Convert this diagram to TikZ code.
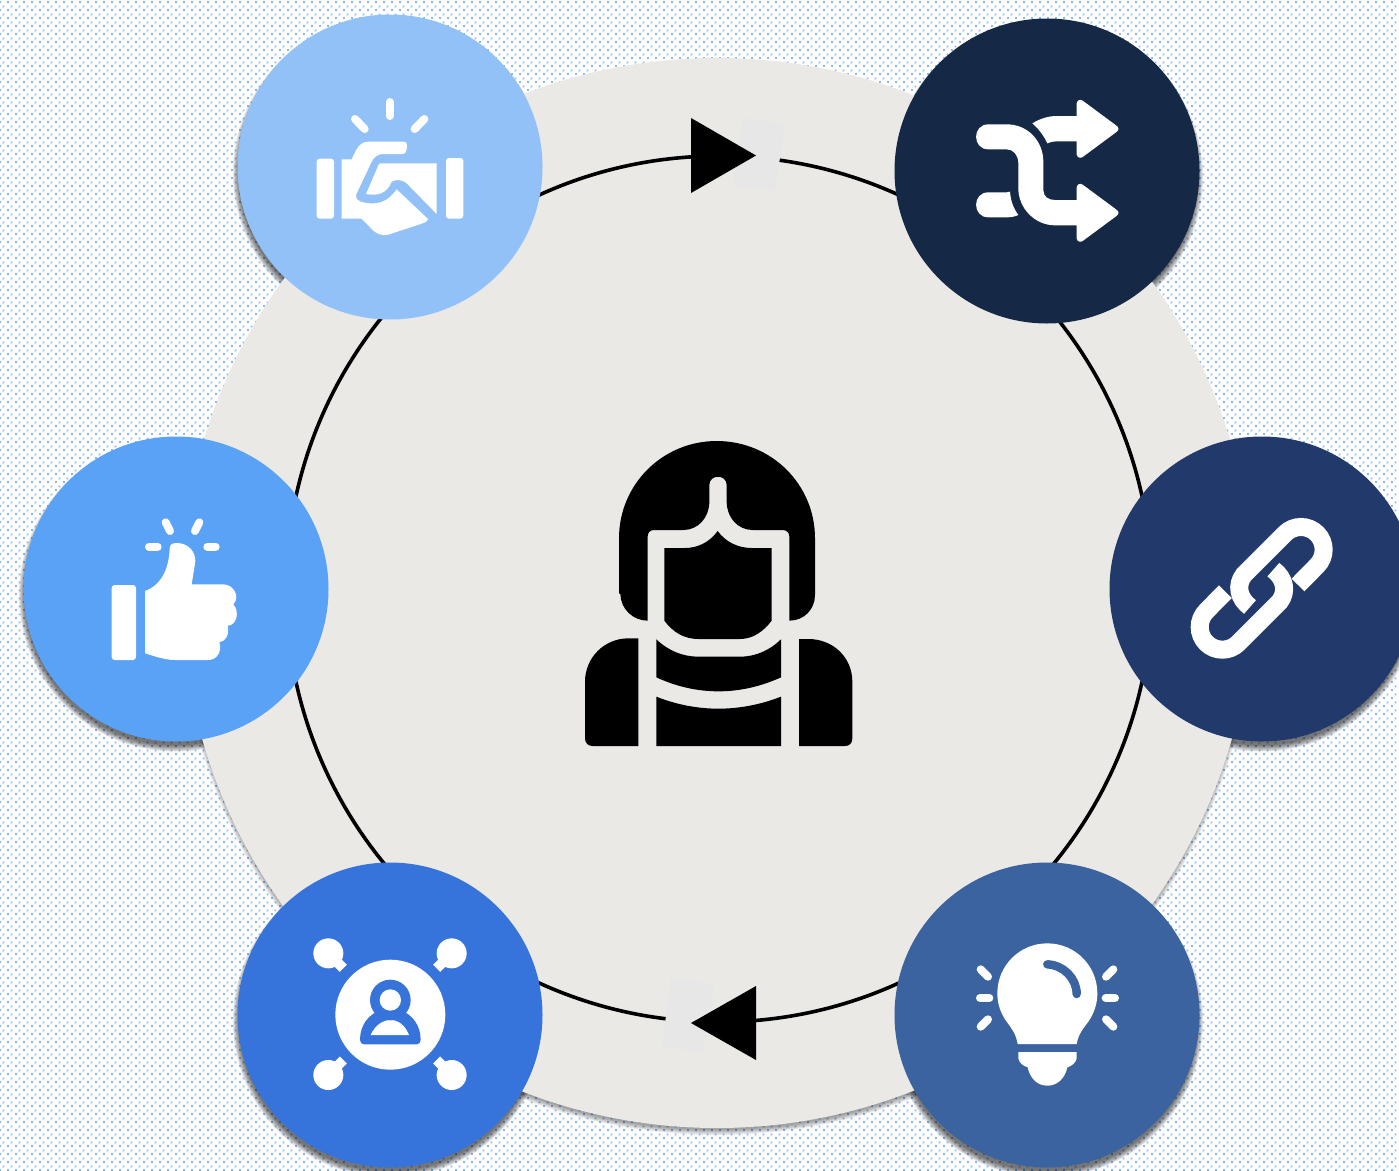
\documentclass[tikz,border=0pt]{standalone}
\usetikzlibrary{patterns}
\pgfdeclarepatternformonly{dotsbg}{\pgfqpoint{0pt}{0pt}}{\pgfqpoint{8pt}{8pt}}{\pgfqpoint{8pt}{8pt}}{%
  \pgfpathrectangle{\pgfqpoint{0pt}{0pt}}{\pgfqpoint{2pt}{2pt}}%
  \pgfpathrectangle{\pgfqpoint{4pt}{4pt}}{\pgfqpoint{2pt}{2pt}}%
  \pgfusepath{fill}}
\definecolor{dotc}{HTML}{85B8F2}
\definecolor{plate}{HTML}{EAE9E6}
\definecolor{patch}{HTML}{E7E7E8}
\definecolor{cHand}{HTML}{92C1F7}
\definecolor{cShuf}{HTML}{152947}
\definecolor{cThumb}{HTML}{5AA2F5}
\definecolor{cLink}{HTML}{21396B}
\definecolor{cNet}{HTML}{3674DB}
\definecolor{cBulb}{HTML}{3B639F}
\tikzset{
  disc/.style={circle,minimum size=305pt,inner sep=0pt,outer sep=0pt},
  ray/.style={draw=white,line width=8pt,line cap=round},
  wfill/.style={fill=white},
  icon/.style={x=0.33333pt,y=-0.33333pt},
  marker/.style={fill=black},
  patchbox/.style={fill=patch},
}
\newcommand{\softshade}[3]{%
  \foreach \rr in {4,3,2,1,0,-1,-2}{\fill[black,opacity=0.1] (#1-0.5,#2+6) circle[radius=#3+\rr];}}
\newcommand{\plateshade}[3]{%
  \foreach \rr in {2,1,0,-1,-2,-3}{\fill[black,opacity=0.07] (#1,#2+5) circle[radius=#3+\rr];}}
\begin{document}
\begin{tikzpicture}[x=1pt,y=-1pt]
\useasboundingbox (0,0) rectangle (1399,1170);
\fill[white] (0,0) rectangle (1399,1170);
\fill[pattern=dotsbg,pattern color=dotc] (0,0) rectangle (1399,1170);
% disc shadows lie under the plate
\softshade{390}{167}{152.5}
\softshade{1047}{171}{152.5}
\softshade{176}{589}{152.5}
\softshade{1262}{589}{152.5}
\softshade{390}{1015}{152.5}
\softshade{1047}{1015}{152.5}
% plate
\plateshade{717}{593}{535}
\node[circle,fill=plate,minimum size=1070pt,inner sep=0pt] (plate) at (717,593) {};
% ring
\node[circle,draw=black,line width=3.6pt,minimum size=866pt,inner sep=0pt] (ring) at (719,589) {};
% patches
\fill[patchbox] (743,118) -- (785,124) -- (775,191) -- (733,185) -- cycle;
\fill[patchbox] (671,978) -- (714,985) -- (703,1052) -- (662,1046) -- cycle;
% arrows
\fill[marker] (691,118) -- (756,155.5) -- (691,193) -- cycle;
\fill[marker] (756,986) -- (691,1023) -- (756,1060) -- cycle;
% discs
\node[disc,fill=cHand] (hand) at (390,167) {};
\node[disc,fill=cShuf] (shuf) at (1047,171) {};
\node[disc,fill=cThumb] (thumb) at (176,589) {};
\node[disc,fill=cLink] (link) at (1262,589) {};
\node[disc,fill=cNet] (net) at (390,1015) {};
\node[disc,fill=cBulb] (bulb) at (1047,1015) {};
% person
\begin{scope}[shift={(570,430)},icon]
\fill[black] (233,572) -- (233,320) .. controls (233,308) and (240,300) .. (252,300) -- (340,300)
  .. controls (385,300) and (418,262) .. (418,215) -- (418,165)
  .. controls (418,132) and (470,132) .. (470,165) -- (470,215)
  .. controls (470,262) and (503,300) .. (548,300) -- (638,300)
  .. controls (650,300) and (658,308) .. (658,320) -- (658,572)
  .. controls (702,572) and (735,538) .. (735,495) -- (735,325)
  .. controls (735,162) and (603,33) .. (440,33)
  .. controls (279,33) and (147,162) .. (147,325) -- (147,490) -- (151,492)
  .. controls (152,538) and (190,572) .. (233,572) -- cycle;
\fill[black] (283,354) -- (345,354) .. controls (385,354) and (420,335) .. (443,303)
  .. controls (466,335) and (503,354) .. (545,354) -- (605,354) -- (605,572)
  .. controls (580,605) and (548,627) .. (510,627) -- (385,627)
  .. controls (340,627) and (308,605) .. (283,572) -- cycle;
\fill[black] (205,625) -- (175,625) .. controls (103,625) and (45,683) .. (45,755) -- (45,925)
  .. controls (45,940) and (55,948) .. (68,948) -- (205,948) -- cycle;
\fill[black] (687,627) -- (715,627) .. controls (790,627) and (847,683) .. (847,755) -- (847,925)
  .. controls (847,940) and (838,948) .. (825,948) -- (687,948) -- cycle;
\fill[black] (259,628) .. controls (295,662) and (338,680) .. (385,680) -- (510,680)
  .. controls (558,680) and (600,660) .. (633,628) -- (633,742)
  .. controls (510,798) and (380,798) .. (259,742) -- cycle;
\fill[black] (259,800) .. controls (380,848) and (510,848) .. (633,800) -- (633,948) -- (259,948) -- cycle;
\end{scope}
% handshake
\begin{scope}[shift={(280,80)},icon]
\fill[wfill,rounded corners=3pt] (110,236) -- (162,236) -- (162,416) -- (110,416) -- cycle;
\fill[wfill,rounded corners=3pt] (498,234) -- (550,234) -- (550,416) -- (498,416) -- cycle;
\draw[ray] (329,66) -- (329,108);
\draw[ray] (225,117) -- (254,147);
\draw[ray] (433,117) -- (404,147);
\fill[wfill] (185,238) -- (215,238) .. controls (228,210) and (238,185) .. (265,185) -- (370,185)
  .. controls (380,185) and (382,192) .. (381,198) .. controls (380,212) and (378,222) .. (368,222)
  -- (310,222) .. controls (292,222) and (282,232) .. (275,245) -- (228,345)
  .. controls (226,354) and (232,360) .. (240,364) .. controls (290,380) and (325,365) .. (350,328)
  -- (445,418) .. controls (440,425) and (435,428) .. (428,430) -- (325,464)
  .. controls (305,468) and (292,462) .. (280,452) -- (245,416) -- (185,416) -- cycle;
\fill[wfill] (300,250) -- (470,250) -- (470,402) -- (380,310)
  .. controls (368,298) and (345,298) .. (335,305) .. controls (322,338) and (295,350) .. (258,342)
  -- (290,268) .. controls (293,258) and (296,254) .. (300,250) -- cycle;
\end{scope}
% shuffle
\begin{scope}[shift={(950,80)},icon]
\fill[wfill] (115,133) -- (170,133) .. controls (235,133) and (280,185) .. (280,245) -- (280,330)
  .. controls (280,350) and (295,360) .. (315,360) -- (380,360) -- (380,322)
  .. controls (382,312) and (390,309) .. (398,314) -- (498,388)
  .. controls (508,395) and (508,402) .. (498,409) -- (398,483)
  .. controls (390,488) and (382,485) .. (380,475) -- (380,436) -- (315,436)
  .. controls (255,436) and (205,385) .. (205,325) -- (205,250)
  .. controls (205,225) and (190,208) .. (170,208) -- (115,208)
  .. controls (66,208) and (66,133) .. (115,133) -- cycle;
\fill[wfill] (247,130) .. controls (270,116) and (295,108) .. (320,108) -- (380,108) -- (380,70)
  .. controls (382,60) and (390,57) .. (398,62) -- (498,136)
  .. controls (508,143) and (508,150) .. (498,157) -- (398,231)
  .. controls (390,236) and (382,233) .. (380,223) -- (380,184) -- (320,184)
  .. controls (310,184) and (300,186) .. (292,190) .. controls (282,168) and (265,145) .. (247,130) -- cycle;
\fill[wfill] (180,335) .. controls (182,362) and (190,385) .. (205,405)
  .. controls (195,410) and (182,412) .. (170,412) -- (115,412)
  .. controls (66,412) and (66,337) .. (115,337) -- (170,337) -- cycle;
\end{scope}
% thumb
\begin{scope}[shift={(95,505)},icon]
\fill[wfill,rounded corners=3pt] (50,240) -- (123,240) -- (123,465) -- (50,465) -- cycle;
\draw[ray] (212,52) -- (225,78);
\draw[ray] (313,52) -- (300,78);
\draw[ray] (162,125) -- (188,125);
\draw[ray] (337,125) -- (362,125);
\fill[wfill] (150,258) .. controls (200,240) and (222,190) .. (224,130)
  .. controls (225,118) and (232,114) .. (245,114) .. controls (280,114) and (302,140) .. (301,170)
  -- (290,238) -- (385,238) .. controls (415,238) and (437,275) .. (415,298)
  .. controls (435,320) and (425,362) .. (398,362) .. controls (405,385) and (392,410) .. (373,412)
  .. controls (382,440) and (365,465) .. (340,465) -- (240,465) .. controls (210,465) and (180,454) .. (150,445) -- cycle;
\end{scope}
% link
\begin{scope}[shift={(1175,505)},icon]
\draw[white,line width=18pt] (369,240) -- (426,182) arc[start angle=45,end angle=-135,radius=68] -- (206,210)
  .. controls (183,240) and (190,280) .. (225,306);
\draw[white,line width=18pt] (151,260) -- (94,318) arc[start angle=225,end angle=45,radius=68] -- (314,290)
  .. controls (337,260) and (330,220) .. (295,194);
\end{scope}
% network
\begin{scope}[shift={(300,925)},icon]
\fill[wfill] (271,269) circle[radius=165];
\foreach \cx/\cy/\ex/\ey in {85/85/130/130,455/85/410/130,85/450/130/405,455/450/410/405}{
  \fill[wfill] (\cx,\cy) circle[radius=45];
  \draw[white,line width=10pt] (\cx,\cy) -- (\ex,\ey);
}
\fill[cNet] (180,345) .. controls (180,300) and (205,270) .. (240,255) -- (302,255)
  .. controls (337,270) and (362,300) .. (362,345) .. controls (362,352) and (357,358) .. (350,358)
  -- (192,358) .. controls (185,358) and (180,352) .. (180,345) -- cycle;
\fill[white] (212,330) .. controls (225,300) and (250,285) .. (271,285)
  .. controls (295,285) and (315,300) .. (327,330) -- cycle;
\fill[cNet] (271,225) circle[radius=61];
\fill[white] (271,225) circle[radius=32];
\end{scope}
% bulb
\begin{scope}[shift={(960,930)},icon]
\fill[wfill] (173,342) .. controls (168,312) and (155,295) .. (140,275)
  .. controls (122,250) and (112,222) .. (112,190)
  .. controls (112,107) and (179,40) .. (262,40)
  .. controls (345,40) and (412,107) .. (412,190)
  .. controls (412,222) and (402,250) .. (385,275)
  .. controls (370,295) and (355,312) .. (350,342) -- cycle;
\draw[cBulb,line width=8.5pt,line cap=round] (262,103) .. controls (310,105) and (350,145) .. (350,192);
\fill[wfill] (175,366) -- (350,366) -- (350,385) .. controls (348,398) and (335,408) .. (322,412)
  .. controls (315,445) and (292,467) .. (262,467)
  .. controls (232,467) and (210,445) .. (203,412)
  .. controls (190,408) and (177,398) .. (175,385) -- cycle;
\draw[ray] (62,118) -- (84,140);
\draw[ray] (60,204) -- (88,204);
\draw[ray] (62,290) -- (84,268);
\draw[ray] (460,118) -- (438,140);
\draw[ray] (437,204) -- (465,204);
\draw[ray] (460,290) -- (438,268);
\end{scope}
\end{tikzpicture}
\end{document}
